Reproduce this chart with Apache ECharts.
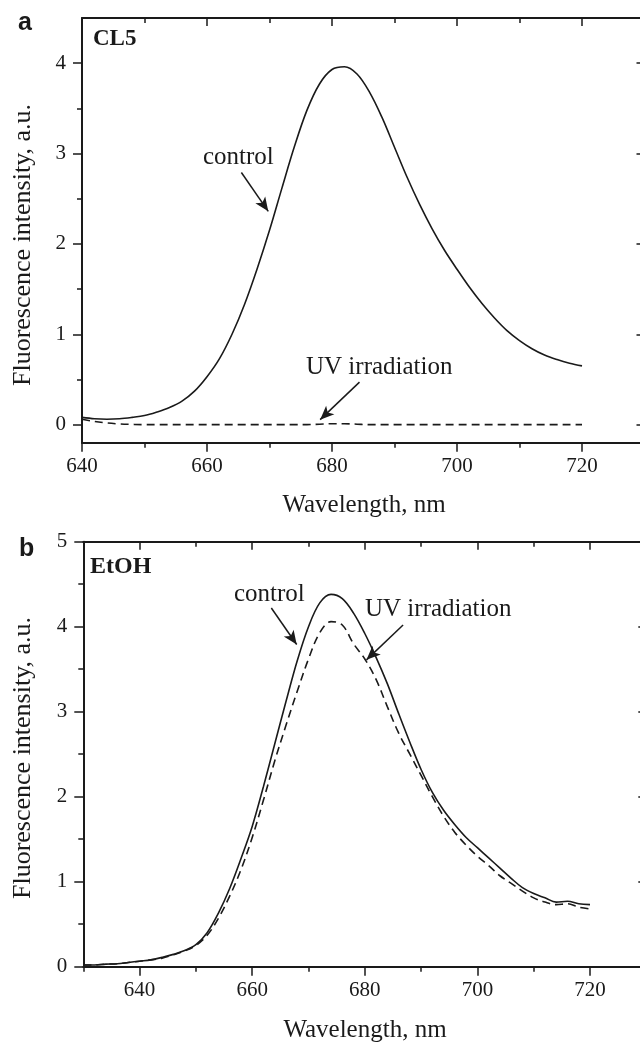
<!DOCTYPE html>
<html><head><meta charset="utf-8">
<script src="https://cdn.jsdelivr.net/npm/echarts@6/dist/echarts.min.js"></script>
<style>html,body{margin:0;padding:0;background:#fff;overflow:hidden}#c{width:680px;height:1044px}</style>
</head><body><div id="c"></div>
<script>
// ---------- data ----------
const lambdaA = [640,642,644,646,648,650,652,654,656,658,660,662,664,666,668,670,672,674,676,678,680,682,684,686,688,690,692,694,696,698,700,702,704,706,708,710,712,714,716,718,720];
const controlA = [0.08,0.065,0.06,0.065,0.08,0.10,0.14,0.19,0.26,0.37,0.53,0.73,1.00,1.33,1.72,2.15,2.62,3.08,3.48,3.77,3.93,3.96,3.88,3.68,3.40,3.07,2.74,2.44,2.17,1.93,1.72,1.52,1.34,1.18,1.04,0.93,0.84,0.77,0.72,0.68,0.65];
const uvA = [0.06,0.035,0.018,0.008,0.003,0,0,0,0,0,0,0,0,0,0,0,0,0,0,0.005,0.01,0.01,0.005,0,0,0,0,0,0,0,0,0,0,0,0,0,0,0,0,0,0];

const lambdaB = [630,632,634,636,638,640,642,644,646,648,650,652,654,656,658,660,662,664,666,668,670,672,674,676,678,680,682,684,686,688,690,692,694,696,698,700,702,704,706,708,710,712,714,716,718,720];
const controlB = [0.02,0.02,0.03,0.035,0.05,0.065,0.08,0.11,0.145,0.19,0.26,0.40,0.63,0.92,1.27,1.65,2.12,2.62,3.12,3.60,4.00,4.28,4.38,4.33,4.16,3.92,3.64,3.33,2.98,2.64,2.32,2.05,1.84,1.67,1.52,1.40,1.28,1.16,1.04,0.93,0.86,0.81,0.76,0.77,0.74,0.73];
const uvB = [0.02,0.02,0.03,0.035,0.05,0.065,0.08,0.10,0.14,0.185,0.25,0.37,0.57,0.83,1.14,1.52,1.96,2.42,2.84,3.24,3.62,3.93,4.06,4.02,3.80,3.62,3.38,3.06,2.75,2.50,2.25,2.00,1.77,1.58,1.43,1.30,1.19,1.07,0.98,0.89,0.81,0.76,0.73,0.74,0.70,0.68];

const xRangeA = [640, 730];
const yRangeA = [-0.2, 4.5];
const xLabelsA = [640,660,680,700,720];
const xMinorA = [650,670,690,710];
const yLabelsA = [0,1,2,3,4];
const yMinorA = [0.5,1.5,2.5,3.5];

const xRangeB = [630, 730];
const yRangeB = [0, 5];
const xLabelsB = [640,660,680,700,720];
const xMinorB = [630,650,670,690,710];
const yLabelsB = [0,1,2,3,4,5];
const yMinorB = [0.5,1.5,2.5,3.5,4.5];

// annotation arrows (data coordinates: [start, tip])
const arrowControlA = [[665.5, 2.79], [669.8, 2.36]];
const arrowUvA = [[684.4, 0.47], [678.1, 0.055]];
const arrowControlB = [[663.4, 4.22], [667.9, 3.79]];
const arrowUvB = [[686.8, 4.02], [680.3, 3.61]];

const titleX = 'Wavelength, nm';
const titleY = 'Fluorescence intensity, a.u.';
const seriesNames = ['control', 'UV irradiation'];

// ---------- styling ----------
const INK = '#1a1a1a';
const SERIF = "'Liberation Serif','Times New Roman',serif";
const SANS = "'Liberation Sans',Arial,sans-serif";
const grids = [
  {left: 82, top: 18, width: 562.5, height: 424.7},
  {left: 83.3, top: 541.7, width: 563, height: 425}
];

function xAxes(g, range, labels, minor) {
  const base = {type: 'value', gridIndex: g, min: range[0], max: range[1], splitLine: {show: false},
    axisLabel: {show: false}, axisLine: {show: false, onZero: false}, axisTick: {show: false}};
  const line = {show: true, onZero: false, lineStyle: {color: INK, width: 2}};
  const tickStyle = {color: INK, width: 1.5};
  return [
    Object.assign({}, base, {position: 'bottom', axisLine: line,
      axisTick: {show: true, inside: false, length: 9, customValues: labels, lineStyle: tickStyle},
      axisLabel: {show: true, customValues: labels, margin: 13, color: INK, fontFamily: SERIF, fontSize: 21}}),
    Object.assign({}, base, {position: 'bottom',
      axisTick: {show: true, inside: false, length: 5, customValues: minor, lineStyle: tickStyle}}),
    Object.assign({}, base, {position: 'top', axisLine: line,
      axisTick: {show: true, inside: true, length: 8, customValues: labels, lineStyle: tickStyle}}),
    Object.assign({}, base, {position: 'top',
      axisTick: {show: true, inside: true, length: 5, customValues: minor, lineStyle: tickStyle}})
  ];
}
function yAxes(g, range, labels, minor) {
  const base = {type: 'value', gridIndex: g, min: range[0], max: range[1], splitLine: {show: false},
    axisLabel: {show: false}, axisLine: {show: false, onZero: false}, axisTick: {show: false}};
  const line = {show: true, onZero: false, lineStyle: {color: INK, width: 2}};
  const tickStyle = {color: INK, width: 1.5};
  return [
    Object.assign({}, base, {position: 'left', axisLine: line,
      axisTick: {show: true, inside: false, length: 9, customValues: labels, lineStyle: tickStyle},
      axisLabel: {show: true, customValues: labels, margin: 16, color: INK, fontFamily: SERIF, fontSize: 21}}),
    Object.assign({}, base, {position: 'left',
      axisTick: {show: true, inside: false, length: 5, customValues: minor, lineStyle: tickStyle}}),
    Object.assign({}, base, {position: 'right', axisLine: line,
      axisTick: {show: true, inside: true, length: 8, customValues: labels, lineStyle: tickStyle}})
  ];
}
function arrowMark(list) {
  return {silent: true, animation: false, symbol: ['none', 'arrow'], symbolSize: [9, 14],
    label: {show: false}, lineStyle: {color: INK, width: 1.5, type: 'solid'},
    data: list.map(a => [{coord: a[0]}, {coord: a[1]}])};
}
function lineSeries(name, xi, yi, xs, ys, dashed, arrows) {
  const s = {name, type: 'line', xAxisIndex: xi, yAxisIndex: yi, smooth: 0.35, showSymbol: false,
    symbol: 'none', animation: false,
    lineStyle: {color: INK, width: 1.6, type: dashed ? [8, 5] : 'solid'},
    data: xs.map((x, i) => [x, ys[i]])};
  if (arrows) s.markLine = arrowMark(arrows);
  return s;
}
function txt(x, y, text, size, opts) {
  opts = opts || {};
  return {type: 'text', x, y, rotation: opts.rot || 0, silent: true,
    style: {text, fill: INK, fontSize: size, fontFamily: opts.family || SERIF, fontWeight: opts.weight || 'normal',
      align: opts.align || 'left', verticalAlign: 'middle'}};
}

const option = {
  animation: false,
  backgroundColor: '#fff',
  grid: grids.map(g => Object.assign({containLabel: false}, g)),
  xAxis: [].concat(xAxes(0, xRangeA, xLabelsA, xMinorA), xAxes(1, xRangeB, xLabelsB, xMinorB)),
  yAxis: [].concat(yAxes(0, yRangeA, yLabelsA, yMinorA), yAxes(1, yRangeB, yLabelsB, yMinorB)),
  series: [
    lineSeries(seriesNames[0], 0, 0, lambdaA, controlA, false, [arrowControlA, arrowUvA]),
    lineSeries(seriesNames[1], 0, 0, lambdaA, uvA, true),
    lineSeries(seriesNames[0], 4, 3, lambdaB, controlB, false, [arrowControlB, arrowUvB]),
    lineSeries(seriesNames[1], 4, 3, lambdaB, uvB, true)
  ],
  graphic: [
    txt(18, 23, 'a', 25, {family: SANS, weight: 'bold'}),
    txt(19, 549, 'b', 25, {family: SANS, weight: 'bold'}),
    txt(93, 39, 'CL5', 23, {weight: 'bold'}),
    txt(90, 567, 'EtOH', 24, {weight: 'bold'}),
    txt(203, 157, seriesNames[0], 25),
    txt(306, 367, seriesNames[1], 25),
    txt(234, 594, seriesNames[0], 25),
    txt(365, 609, seriesNames[1], 25),
    txt(364, 505, titleX, 25, {align: 'center'}),
    txt(365, 1030, titleX, 25, {align: 'center'}),
    txt(23, 245, titleY, 26, {align: 'center', rot: Math.PI / 2}),
    txt(23, 758, titleY, 26, {align: 'center', rot: Math.PI / 2})
  ]
};
const chart = echarts.init(document.getElementById('c'), null, {renderer: 'canvas'});
chart.setOption(option);
</script>
</body></html>
